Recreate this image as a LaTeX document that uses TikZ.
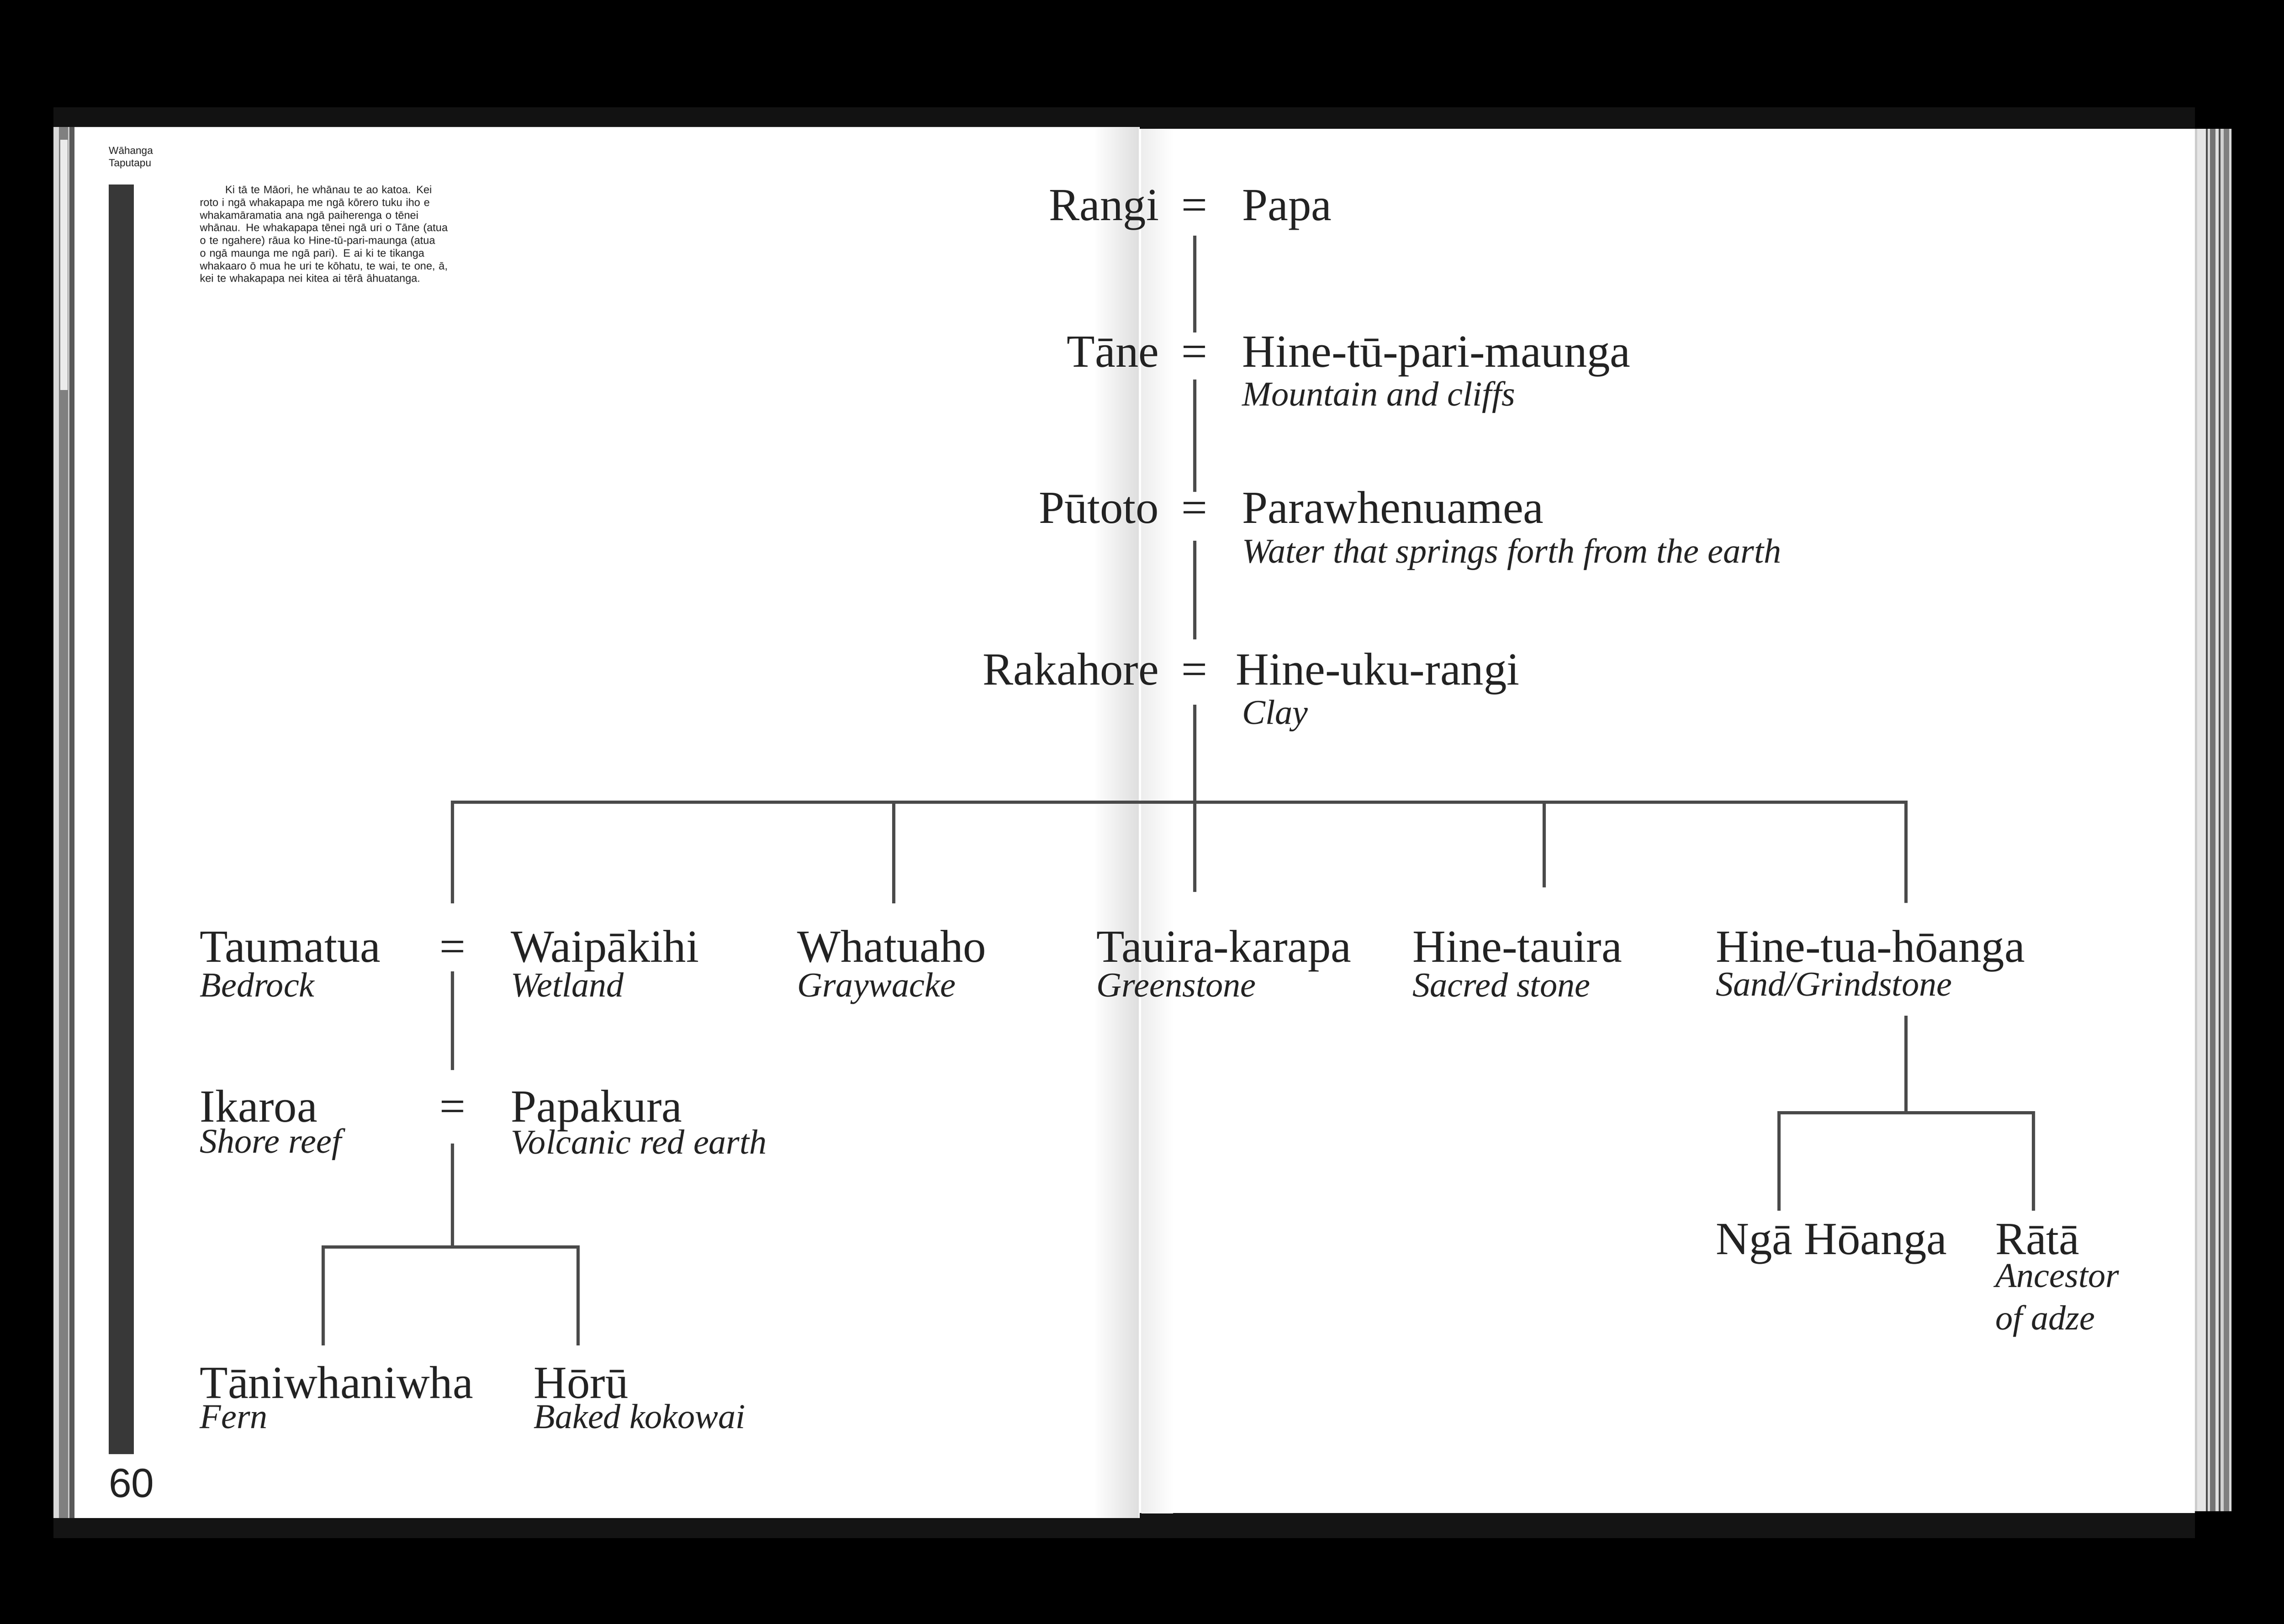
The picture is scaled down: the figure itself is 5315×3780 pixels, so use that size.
\documentclass[tikz,border=0pt]{standalone}
\usepackage{fontspec}
\setmainfont{Liberation Serif}
\newfontfamily\grotesk{Liberation Sans}
\definecolor{ink}{HTML}{222222}
\definecolor{linec}{HTML}{4A4A4A}
\begin{document}
\begin{tikzpicture}[x=1pt,y=-1pt,
  nm/.style={font=\fontsize{107}{120}\selectfont, text=ink, inner sep=0pt, anchor=base west},
  nmr/.style={nm, anchor=base east},
  gl/.style={font=\fontsize{81}{96}\selectfont\itshape, text=ink, inner sep=0pt, anchor=base west},
  eqs/.style={font=\fontsize{107}{120}\selectfont, text=ink, inner sep=0pt, anchor=base},
  conn/.style={draw=linec, line width=7.5pt, line join=miter},
  para/.style={font=\grotesk\fontsize{25}{29.5}\selectfont, text=ink, inner sep=0pt,
    anchor=north west, align=left, text width=700pt},
]
% ---------- book / scan background ----------
\useasboundingbox (0,0) rectangle (5315,3780);
\fill[black] (0,0) rectangle (5315,3780);
\fill[black!93] (124,250) rectangle (5108,300);
\fill[black!92] (124,3515) rectangle (5108,3580);
% pages
\fill[white] (173,296) rectangle (2652,3533);
\fill[white] (2652,300) rectangle (5108,3522);
% gutter shading
\shade[left color=white, right color=black!13] (2545,296) rectangle (2650,3533);
\shade[left color=black!7, right color=white] (2656,300) rectangle (2730,3522);
% left page edges
\fill[black!15] (124,296) rectangle (137,3533);
\fill[black!50] (137,296) rectangle (158,3533);
\fill[black!8] (140,325) rectangle (157,908);
\fill[black!20] (158,296) rectangle (162,3533);
\fill[black!65] (162,296) rectangle (173,3533);
% right page edges
\fill[black!20] (5108,300) rectangle (5113,3517);
\fill[black!10] (5113,300) rectangle (5133,3517);
\fill[black!70] (5133,300) rectangle (5137,3517);
\fill[black!15] (5137,300) rectangle (5143,3517);
\fill[black!55] (5143,300) rectangle (5155,3517);
\fill[black!12] (5155,300) rectangle (5163,3517);
\fill[black!70] (5163,300) rectangle (5167,3517);
\fill[black!18] (5167,300) rectangle (5175,3517);
\fill[black!50] (5175,300) rectangle (5187,3517);
\fill[black!15] (5187,300) rectangle (5193,3517);

% ---------- left page furniture ----------
\node[font=\grotesk\fontsize{24}{29}\selectfont, text=ink, inner sep=0pt, anchor=north west, align=left]
  (head) at (253,341) {Wāhanga\\Taputapu};
\fill[black!78] (253,429) rectangle (311,3385);
\node[font=\grotesk\fontsize{95}{100}\selectfont, text=ink, inner sep=0pt, anchor=base west]
  (pnum) at (253,3485) {60};
\node[para] (intro) at (465,432) {\hspace*{59pt}Ki tā te Māori, he whānau te ao katoa. Kei\\
roto i ngā whakapapa me ngā kōrero tuku iho e\\
whakamāramatia ana ngā paiherenga o tēnei\\
whānau. He whakapapa tēnei ngā uri o Tāne (atua\\
o te ngahere) rāua ko Hine-tū-pari-maunga (atua\\
o ngā maunga me ngā pari). E ai ki te tikanga\\
whakaaro ō mua he uri te kōhatu, te wai, te one, ā,\\
kei te whakapapa nei kitea ai tērā āhuatanga.};

% ---------- top lineage ----------
\node[nmr] (rangi) at (2697,513) {Rangi};
\node[eqs] (eq1) at (2780,513) {=};
\node[nm]  (papa) at (2891,513) {Papa};

\node[nmr] (tane) at (2697,854) {Tāne};
\node[eqs] (eq2) at (2780,854) {=};
\node[nm]  (hinetu) at (2891,854) {Hine-tū-pari-maunga};
\node[gl]  (mount) at (2891,944) {Mountain and cliffs};

\node[nmr] (putoto) at (2697,1218) {Pūtoto};
\node[eqs] (eq3) at (2780,1218) {=};
\node[nm]  (paraw) at (2891,1218) {Parawhenuamea};
\node[gl]  (water) at (2891,1310) {Water that springs forth from the earth};

\node[nmr] (rakahore) at (2697,1594) {Rakahore};
\node[eqs] (eq4) at (2780,1594) {=};
\node[nm]  (hineuku) at (2876,1594) {Hine-uku-rangi};
\node[gl]  (clay) at (2891,1685) {Clay};

\draw[conn] ([yshift=-35pt]eq1.base) -- ([yshift=80pt]eq2.base);
\draw[conn] ([yshift=-29pt]eq2.base) -- ([yshift=73pt]eq3.base);
\draw[conn] ([yshift=-41pt]eq3.base) -- ([yshift=106pt]eq4.base);

% ---------- children of Rakahore ----------
\node[nm] (taumatua) at (465,2239) {Taumatua};
\node[eqs] (eqa) at (1053,2239) {=};
\node[nm] (waipakihi) at (1189,2239) {Waipākihi};
\node[nm] (whatuaho) at (1855,2239) {Whatuaho};
\node[nm] (tauira) at (2552,2239) {Tauira-karapa};
\node[nm] (hinetauira) at (3287,2239) {Hine-tauira};
\node[nm] (hinetua) at (3993,2239) {Hine-tua-hōanga};

\node[gl] (bedrock) at (465,2320) {Bedrock};
\node[gl] (wetland) at (1189,2320) {Wetland};
\node[gl] (graywacke) at (1855,2320) {Graywacke};
\node[gl] (greenstone) at (2552,2320) {Greenstone};
\node[gl] (sacred) at (3287,2320) {Sacred stone};
\node[gl] (sand) at (3993,2318) {Sand/Grindstone};

\coordinate (bar1) at (2780,1867);
\coordinate (c1) at (1053,2103);
\coordinate (c2) at (2080,2103);
\coordinate (c3) at (2780,2076);
\coordinate (c4) at (3593,2065);
\coordinate (c5) at (4435,2102);
\draw[conn] ([yshift=-46pt]eq4.base) -- (c3);
\draw[conn] (c1) |- (bar1) -| (c5);
\draw[conn] (c2) -- (c2 |- bar1);
\draw[conn] (c4) -- (c4 |- bar1);

% ---------- Taumatua line ----------
\node[nm] (ikaroa) at (465,2611) {Ikaroa};
\node[eqs] (eqb) at (1053,2611) {=};
\node[nm] (papakura) at (1189,2611) {Papakura};
\node[gl] (shore) at (465,2683) {Shore reef};
\node[gl] (volcanic) at (1189,2686) {Volcanic red earth};
\draw[conn] ([yshift=-22pt]eqa.base) -- ([yshift=120pt]eqb.base);

\node[nm] (taniwha) at (465,3254) {Tāniwhaniwha};
\node[nm] (horu) at (1242,3254) {Hōrū};
\node[gl] (fern) at (465,3325) {Fern};
\node[gl] (baked) at (1242,3325) {Baked kokowai};

\coordinate (bar2) at (1053,2902);
\coordinate (c6) at (752,3132);
\coordinate (c7) at (1345,3132);
\draw[conn] ([yshift=-51pt]eqb.base) -- (bar2);
\draw[conn] (c6) |- (bar2) -| (c7);

% ---------- Hine-tua-hoanga line ----------
\node[nm] (ngahoanga) at (3993,2920) {Ngā Hōanga};
\node[nm] (rata) at (4643,2920) {Rātā};
\node[gl] (ancestor) at (4643,2996) {Ancestor};
\node[gl] (adze) at (4643,3095) {of adze};

\coordinate (htdown) at (4435,2364);
\coordinate (bar3) at (4435,2590);
\coordinate (c8) at (4140,2818);
\coordinate (c9) at (4732,2818);
\draw[conn] (htdown) -- (bar3);
\draw[conn] (c8) |- (bar3) -| (c9);
\end{tikzpicture}
\end{document}
